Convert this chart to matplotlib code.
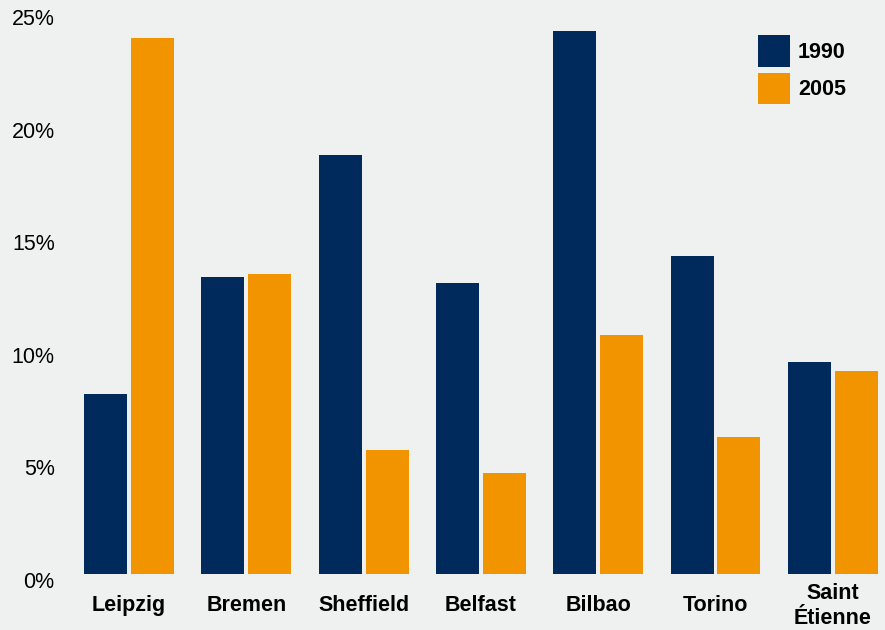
import matplotlib
matplotlib.use("Agg")
import matplotlib.pyplot as plt
import numpy as np
from matplotlib.transforms import ScaledTranslation

plt.rcParams['font.family'] = ['Liberation Sans', 'DejaVu Sans']

cities = ['Leipzig', 'Bremen', 'Sheffield', 'Belfast', 'Bilbao', 'Torino', 'Saint\nÉtienne']
rate_1990 = [8.0, 13.2, 18.6, 12.9, 24.1, 14.1, 9.4]
rate_2005 = [23.8, 13.3, 5.5, 4.5, 10.6, 6.1, 9.0]
yticks = [0, 5, 10, 15, 20, 25]

NAVY = '#00295c'
ORANGE = '#f29400'
BG = '#eff1f0'
FS = 15.5

fig = plt.figure(figsize=(8.85, 6.30), dpi=100, facecolor=BG)
ax = fig.add_axes([70 / 885, 56 / 630, 815 / 885, 563 / 630], facecolor=BG)

x = np.arange(len(cities))
w = 0.367
ax.bar(x - 0.2, rate_1990, width=w, color=NAVY, label='1990')
ax.bar(x + 0.2, rate_2005, width=w, color=ORANGE, label='2005')

ax.set_xlim(-0.503, 6.445)
ax.set_ylim(0, 25)

for s in ax.spines.values():
    s.set_visible(False)

ax.set_yticks(yticks)
ax.set_yticklabels([f'{t}%' for t in yticks], fontsize=FS)
ax.tick_params(axis='y', length=0, pad=11)
# nudge the percent labels slightly below their tick positions
shift = ScaledTranslation(0, -6 / 100, fig.dpi_scale_trans)
for lab in ax.get_yticklabels():
    lab.set_transform(lab.get_transform() + shift)

ax.set_xticks(x)
ax.set_xticklabels(cities, fontsize=FS, fontweight='bold', va='center',
                   linespacing=1.22)
ax.tick_params(axis='x', length=0, pad=23)

ax.legend(loc='upper left', bbox_to_anchor=(758 / 885, 1 - 35 / 630),
          bbox_transform=fig.transFigure, frameon=False, borderpad=0,
          borderaxespad=0, handlelength=1.49, handleheight=1.88,
          handletextpad=0.37, labelspacing=0.28,
          prop={'size': FS, 'weight': 'bold'})

fig.savefig('out.png', dpi=100, facecolor=BG)
